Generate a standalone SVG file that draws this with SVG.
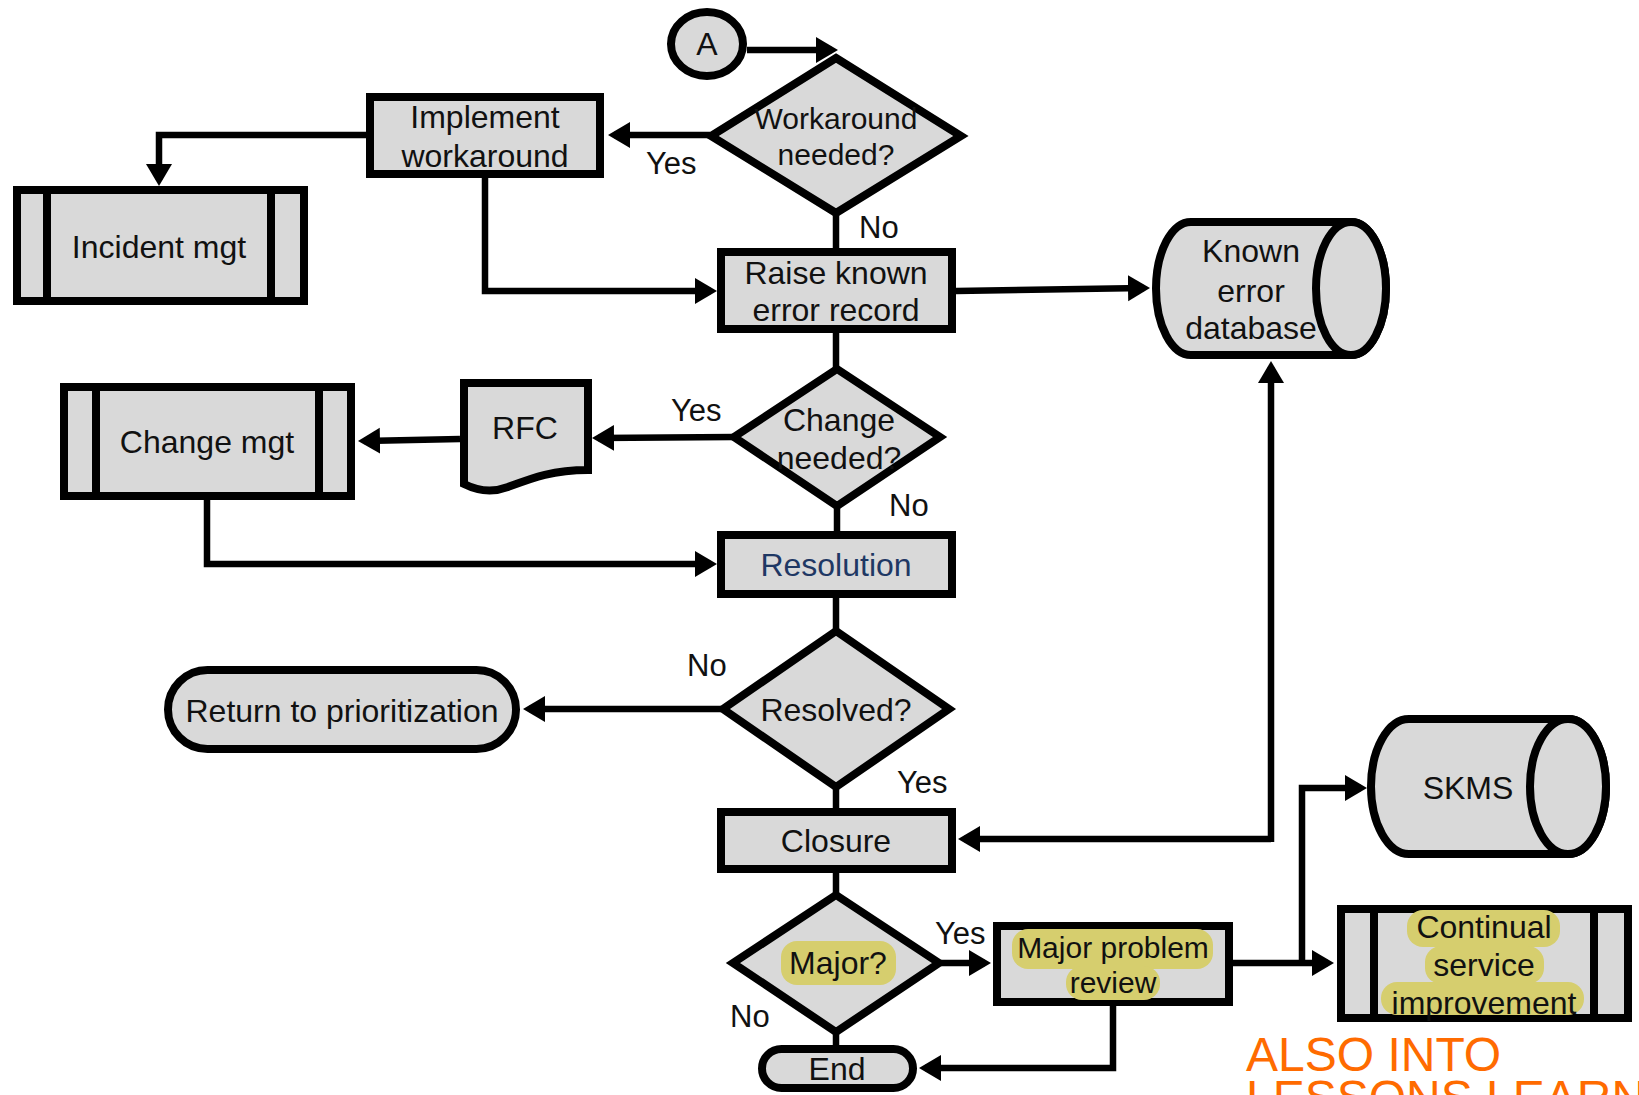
<svg xmlns="http://www.w3.org/2000/svg" width="1639" height="1095" viewBox="0 0 1639 1095">
  <style>
    .shape { fill: #D9D9D9; stroke: #000; stroke-width: 8; stroke-linejoin: miter; }
    .bar { stroke: #000; stroke-width: 8; fill: none; }
    .link { fill: none; stroke: #000; stroke-width: 6.5; stroke-linejoin: miter; }
    .arrow { marker-end: url(#head); }
    text { font-family: "Liberation Sans", Arial, sans-serif; font-size: 32px; fill: #111; text-anchor: middle; }
    .small { font-size: 30px; }
    .lbl { text-anchor: start; font-size: 31px; }
    .hl { fill: #D6CE6E; }
    .blue { fill: #1F3864; }
    .note { fill: #FF6B00; font-size: 48px; text-anchor: start; }
  </style>
  <defs>
    <marker id="head" markerUnits="userSpaceOnUse" markerWidth="24" markerHeight="28" refX="16" refY="13" orient="auto">
      <path d="M0,0 L22,13 L0,26 Z" fill="#000"/>
    </marker>
  </defs>

  <!-- connectors -->
  <g id="connectors">
    <path class="link arrow" d="M 747,50 H 832"/>
    <path class="link arrow" d="M 710,135 H 614"/>
    <path class="link arrow" d="M 366,135 H 159 V 180"/>
    <path class="link arrow" d="M 485,178 V 291 H 711"/>
    <path class="link" d="M 836,213 V 248"/>
    <path class="link arrow" d="M 956,291 L 1144,288"/>
    <path class="link" d="M 836,333 V 368"/>
    <path class="link arrow" d="M 734,437 L 598,438"/>
    <path class="link arrow" d="M 460,439 L 364,441"/>
    <path class="link arrow" d="M 207,500 V 564 H 711"/>
    <path class="link" d="M 837,507 V 531"/>
    <path class="link" d="M 836,598 V 629"/>
    <path class="link arrow" d="M 721,709 H 529"/>
    <path class="link" d="M 836,789 V 808"/>
    <path class="link arrow" d="M 1271,839 H 964"/>
    <path class="link arrow" d="M 1271,842 V 367"/>
    <path class="link" d="M 836,873 V 894"/>
    <path class="link arrow" d="M 941,963 H 985"/>
    <path class="link arrow" d="M 1233,963 H 1328"/>
    <path class="link arrow" d="M 1302,963 V 788 H 1361"/>
    <path class="link" d="M 836,1033 V 1047"/>
    <path class="link arrow" d="M 1113,1006 V 1068 H 925"/>
  </g>

  <!-- branch labels -->
  <g id="labels">
    <text class="lbl" x="646" y="174">Yes</text>
    <text class="lbl" x="859" y="238">No</text>
    <text class="lbl" x="671" y="421">Yes</text>
    <text class="lbl" x="889" y="516">No</text>
    <text class="lbl" x="687" y="676">No</text>
    <text class="lbl" x="897" y="793">Yes</text>
    <text class="lbl" x="935" y="944">Yes</text>
    <text class="lbl" x="730" y="1027">No</text>
  </g>

  <g id="start-a">
    <ellipse class="shape" cx="707" cy="44" rx="36" ry="32"/>
    <text x="707" y="55">A</text>
  </g>

  <g id="workaround-needed">
    <polygon class="shape" points="836,58 961,136 836,213 711,136"/>
    <text class="small" x="836" y="129">Workaround</text>
    <text class="small" x="836" y="165">needed?</text>
  </g>

  <g id="implement-workaround">
    <rect class="shape" x="370" y="97" width="230" height="77"/>
    <text x="485" y="128">Implement</text>
    <text x="485" y="167">workaround</text>
  </g>

  <g id="incident-mgt">
    <rect class="shape" x="17" y="190" width="287" height="111"/>
    <line class="bar" x1="47" y1="190" x2="47" y2="301"/>
    <line class="bar" x1="271" y1="190" x2="271" y2="301"/>
    <text x="159" y="258">Incident mgt</text>
  </g>

  <g id="raise-known-error">
    <rect class="shape" x="721" y="252" width="231" height="77"/>
    <text x="836" y="284">Raise known</text>
    <text x="836" y="321">error record</text>
  </g>

  <g id="known-error-db">
    <path class="shape" d="M 1191,222 H 1351 A 35,66.5 0 0 1 1351,355 H 1191 A 35,66.5 0 0 1 1191,222 Z"/>
    <ellipse class="shape" cx="1351" cy="288.5" rx="35" ry="66.5"/>
    <text x="1251" y="262">Known</text>
    <text x="1251" y="302">error</text>
    <text x="1251" y="339">database</text>
  </g>

  <g id="change-needed">
    <polygon class="shape" points="837,369 940,437 837,506 734,437"/>
    <text x="839" y="431">Change</text>
    <text x="839" y="469">needed?</text>
  </g>

  <g id="rfc">
    <path class="shape" d="M 464,383 H 588 V 470 C 552,470 532,478 508,487 C 492,493 478,491 464,484 Z"/>
    <text x="525" y="439">RFC</text>
  </g>

  <g id="change-mgt">
    <rect class="shape" x="64" y="387" width="287" height="109"/>
    <line class="bar" x1="96" y1="387" x2="96" y2="496"/>
    <line class="bar" x1="319" y1="387" x2="319" y2="496"/>
    <text x="207" y="453">Change mgt</text>
  </g>

  <g id="resolution">
    <rect class="shape" x="721" y="535" width="231" height="59"/>
    <text class="blue" x="836" y="576">Resolution</text>
  </g>

  <g id="resolved">
    <polygon class="shape" points="836,631 949,709 836,787 723,709"/>
    <text x="836" y="721">Resolved?</text>
  </g>

  <g id="return-to-prioritization">
    <rect class="shape" x="168" y="670" width="348" height="79" rx="39.5" ry="39.5"/>
    <text x="342" y="722">Return to prioritization</text>
  </g>

  <g id="closure">
    <rect class="shape" x="721" y="812" width="231" height="57"/>
    <text x="836" y="852">Closure</text>
  </g>

  <g id="major">
    <polygon class="shape" points="836,895 939,963 836,1032 733,963"/>
    <rect class="hl" x="781" y="941" width="115" height="44" rx="16"/>
    <text x="838" y="974">Major?</text>
  </g>

  <g id="major-problem-review">
    <rect class="shape" x="997" y="926" width="232" height="76"/>
    <rect class="hl" x="1012" y="929" width="201" height="40" rx="16"/>
    <rect class="hl" x="1066" y="966" width="94" height="34" rx="16"/>
    <text class="small" x="1113" y="958">Major problem</text>
    <text class="small" x="1113" y="993">review</text>
  </g>

  <g id="skms">
    <path class="shape" d="M 1409,719 H 1568 A 38,67.5 0 0 1 1568,854 H 1409 A 38,67.5 0 0 1 1409,719 Z"/>
    <ellipse class="shape" cx="1568" cy="786.5" rx="38" ry="67.5"/>
    <text x="1468" y="799">SKMS</text>
  </g>

  <g id="continual-service-improvement">
    <rect class="shape" x="1341" y="909" width="287" height="109"/>
    <rect class="hl" x="1407" y="910" width="153" height="37" rx="16"/>
    <rect class="hl" x="1425" y="946" width="119" height="38" rx="16"/>
    <rect class="hl" x="1381" y="982" width="203" height="33" rx="16"/>
    <line class="bar" x1="1374" y1="909" x2="1374" y2="1018"/>
    <line class="bar" x1="1594" y1="909" x2="1594" y2="1018"/>
    <text x="1484" y="938">Continual</text>
    <text x="1484" y="976">service</text>
    <text x="1484" y="1014">improvement</text>
  </g>

  <g id="end">
    <rect class="shape" x="762" y="1049" width="151" height="39" rx="19.5" ry="19.5"/>
    <text x="837" y="1080">End</text>
  </g>

  <g id="note">
    <text class="note" x="1246" y="1071">ALSO INTO</text>
    <text class="note" x="1246" y="1114">LESSONS LEARNED</text>
  </g>
</svg>
